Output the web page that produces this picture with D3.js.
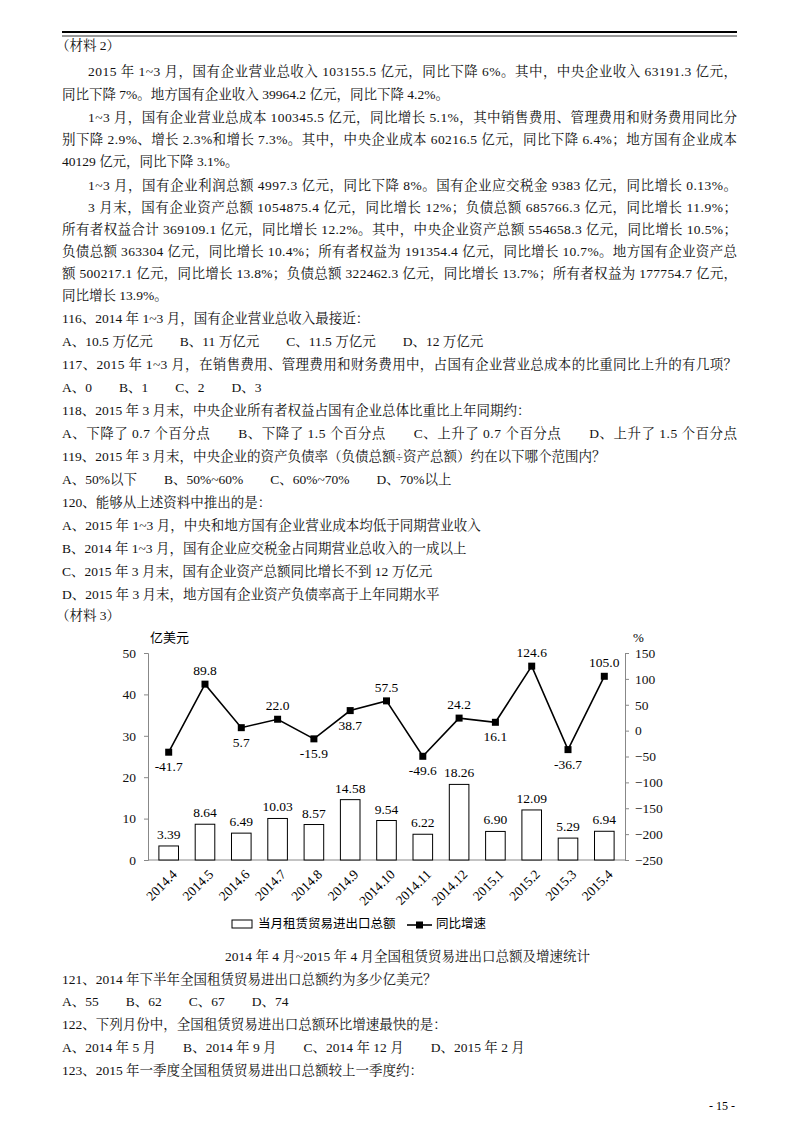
<!DOCTYPE html>
<html><head><meta charset="utf-8">
<script src="https://cdn.jsdelivr.net/npm/d3@7"></script>
<style>body{margin:0;background:#fff}svg{display:block}</style>
</head><body>
<svg id="s" width="800" height="1132"></svg>
<script>
const months=["2014.4","2014.5","2014.6","2014.7","2014.8","2014.9","2014.10","2014.11","2014.12","2015.1","2015.2","2015.3","2015.4"];
const amounts=[3.39,8.64,6.49,10.03,8.57,14.58,9.54,6.22,18.26,6.90,12.09,5.29,6.94];
const growth=[-41.7,89.8,5.7,22.0,-15.9,38.7,57.5,-49.6,24.2,16.1,124.6,-36.7,105.0];
const growthLabelSide=[1,-1,1,-1,1,1,-1,1,-1,1,-1,1,-1];
const leftTicks=[0,10,20,30,40,50];
const rightTicks=[-250,-200,-150,-100,-50,0,50,100,150];
// [text, x, y, justify]
const lines=[
["（材料 2）",56,47,0],
["2015 年 1~3 月，国有企业营业总收入 103155.5 亿元，同比下降 6%。其中，中央企业收入 63191.3 亿元，",88,73,1],
["同比下降 7%。地方国有企业收入 39964.2 亿元，同比下降 4.2%。",62,96,0],
["1~3 月，国有企业营业总成本 100345.5 亿元，同比增长 5.1%，其中销售费用、管理费用和财务费用同比分",88,119,1],
["别下降 2.9%、增长 2.3%和增长 7.3%。其中，中央企业成本 60216.5 亿元，同比下降 6.4%；地方国有企业成本",62,141,1],
["40129 亿元，同比下降 3.1%。",62,163,0],
["1~3 月，国有企业利润总额 4997.3 亿元，同比下降 8%。国有企业应交税金 9383 亿元，同比增长 0.13%。",88,187,1],
["3 月末，国有企业资产总额 1054875.4 亿元，同比增长 12%；负债总额 685766.3 亿元，同比增长 11.9%；",88,209,1],
["所有者权益合计 369109.1 亿元，同比增长 12.2%。其中，中央企业资产总额 554658.3 亿元，同比增长 10.5%；",62,231,1],
["负债总额 363304 亿元，同比增长 10.4%；所有者权益为 191354.4 亿元，同比增长 10.7%。地方国有企业资产总",62,253,1],
["额 500217.1 亿元，同比增长 13.8%；负债总额 322462.3 亿元，同比增长 13.7%；所有者权益为 177754.7 亿元，",62,275,1],
["同比增长 13.9%。",62,297,0],
["116、2014 年 1~3 月，国有企业营业总收入最接近：",62,320,0],
["A、10.5 万亿元　　B、11 万亿元　　C、11.5 万亿元　　D、12 万亿元",62,343,0],
["117、2015 年 1~3 月，在销售费用、管理费用和财务费用中，占国有企业营业总成本的比重同比上升的有几项？",62,366,1],
["A、0　　B、1　　C、2　　D、3",62,389,0],
["118、2015 年 3 月末，中央企业所有者权益占国有企业总体比重比上年同期约：",62,412,0],
["A、下降了 0.7 个百分点　　B、下降了 1.5 个百分点　　C、上升了 0.7 个百分点　　D、上升了 1.5 个百分点",62,435,1],
["119、2015 年 3 月末，中央企业的资产负债率（负债总额÷资产总额）约在以下哪个范围内？",62,458,0],
["A、50%以下　　B、50%~60%　　C、60%~70%　　D、70%以上",62,481,0],
["120、能够从上述资料中推出的是：",62,504,0],
["A、2015 年 1~3 月，中央和地方国有企业营业成本均低于同期营业收入",62,527,0],
["B、2014 年 1~3 月，国有企业应交税金占同期营业总收入的一成以上",62,550,0],
["C、2015 年 3 月末，国有企业资产总额同比增长不到 12 万亿元",62,573,0],
["D、2015 年 3 月末，地方国有企业资产负债率高于上年同期水平",62,596,0],
["（材料 3）",56,617,0],
["2014 年 4 月~2015 年 4 月全国租赁贸易进出口总额及增速统计",225,958,0],
["121、2014 年下半年全国租赁贸易进出口总额约为多少亿美元？",62,981,0],
["A、55　　B、62　　C、67　　D、74",62,1003,0],
["122、下列月份中，全国租赁贸易进出口总额环比增速最快的是：",62,1026,0],
["A、2014 年 5 月　　B、2014 年 9 月　　C、2014 年 12 月　　D、2015 年 2 月",62,1049,0],
["123、2015 年一季度全国租赁贸易进出口总额较上一季度约：",62,1072,0],
];
const svg=d3.select("#s");
const F="'Liberation Serif','Noto Serif CJK SC','Noto Sans CJK SC',serif";
svg.append("line").attr("x1",62).attr("x2",737).attr("y1",32).attr("y2",32).attr("stroke","#000").attr("stroke-width",2.2);
svg.append("line").attr("x1",62).attr("x2",737).attr("y1",36).attr("y2",36).attr("stroke","#000").attr("stroke-width",0.8);
lines.forEach(([t,x,y,j])=>{
  const e=svg.append("text").attr("x",x).attr("y",y).attr("dominant-baseline","middle")
    .attr("font-family",F).attr("font-size",13.5).attr("fill","#111").text(t);
  if(j) e.attr("textLength",737-x).attr("lengthAdjust","spacing");
});
svg.append("text").attr("x",735).attr("y",1107).attr("text-anchor","end").attr("dominant-baseline","middle")
  .attr("font-family",F).attr("font-size",12).text("- 15 -");

// chart
const x0=148,x1=625,yT=653,yB=860;
const x=d3.scaleBand().domain(months).range([x0,x1]).paddingInner(0.46).paddingOuter(0.3);
const yL=d3.scaleLinear().domain([0,50]).range([yB,yT]);
const yR=d3.scaleLinear().domain([-250,150]).range([yB,yT]);
const g=svg.append("g").attr("font-family","'Liberation Serif',serif").attr("font-size",13);
const la=g.append("g").attr("transform",`translate(${x0},0)`).call(d3.axisLeft(yL).tickValues(leftTicks).tickSize(4).tickPadding(8));
const ra=g.append("g").attr("transform",`translate(${x1},0)`).call(d3.axisRight(yR).tickValues(rightTicks).tickSize(4).tickPadding(6));
[la,ra].forEach(a=>{a.selectAll("path,line").attr("stroke","#888");a.selectAll("text").attr("font-size",13.5).attr("fill","#111").attr("font-family","'Liberation Serif',serif");});
g.append("line").attr("x1",x0).attr("x2",x1).attr("y1",yB).attr("y2",yB).attr("stroke","#888");
g.append("text").attr("x",150).attr("y",642).attr("font-family","'Noto Sans CJK SC'").attr("font-size",13).text("亿美元");
g.append("text").attr("x",633).attr("y",642).attr("font-size",13).text("%");
g.selectAll(".bar").data(amounts).join("rect").attr("x",(d,i)=>x(months[i])).attr("width",x.bandwidth())
  .attr("y",d=>yL(d)).attr("height",d=>yB-yL(d)).attr("fill","#fff").attr("stroke","#000").attr("stroke-width",1);
g.selectAll(".bl").data(amounts).join("text").attr("x",(d,i)=>x(months[i])+x.bandwidth()/2).attr("y",d=>yL(d)-7)
  .attr("text-anchor","middle").attr("font-size",13.5).text(d=>d.toFixed(2));
const cx=i=>x(months[i])+x.bandwidth()/2;
g.append("path").datum(growth).attr("fill","none").attr("stroke","#000").attr("stroke-width",1.6)
  .attr("d",d3.line().x((d,i)=>cx(i)).y(d=>yR(d)));
g.selectAll(".pt").data(growth).join("rect").attr("x",(d,i)=>cx(i)-3.5).attr("y",d=>yR(d)-3.5).attr("width",7).attr("height",7);
g.selectAll(".gl").data(growth).join("text").attr("x",(d,i)=>cx(i)).attr("y",(d,i)=>yR(d)+(growthLabelSide[i]>0?19:-9))
  .attr("text-anchor","middle").attr("font-size",13.5).text(d=>d.toFixed(1));
g.selectAll(".xl").data(months).join("text").attr("font-size",13.5)
  .attr("transform",(d,i)=>`translate(${cx(i)+7},${yB+13}) rotate(-45)`).attr("text-anchor","end").attr("dominant-baseline","middle").text(d=>d);
// legend
g.append("rect").attr("x",232).attr("y",920).attr("width",20).attr("height",8).attr("fill","#fff").attr("stroke","#000");
g.append("text").attr("x",258).attr("y",925).attr("dominant-baseline","middle").attr("font-family","'Noto Sans CJK SC'").attr("font-size",12.5).text("当月租赁贸易进出口总额");
g.append("line").attr("x1",407).attr("x2",432).attr("y1",925).attr("y2",925).attr("stroke","#000").attr("stroke-width",1.6);
g.append("rect").attr("x",416).attr("y",921.5).attr("width",7).attr("height",7);
g.append("text").attr("x",436).attr("y",925).attr("dominant-baseline","middle").attr("font-family","'Noto Sans CJK SC'").attr("font-size",12.5).text("同比增速");
</script>
</body></html>
